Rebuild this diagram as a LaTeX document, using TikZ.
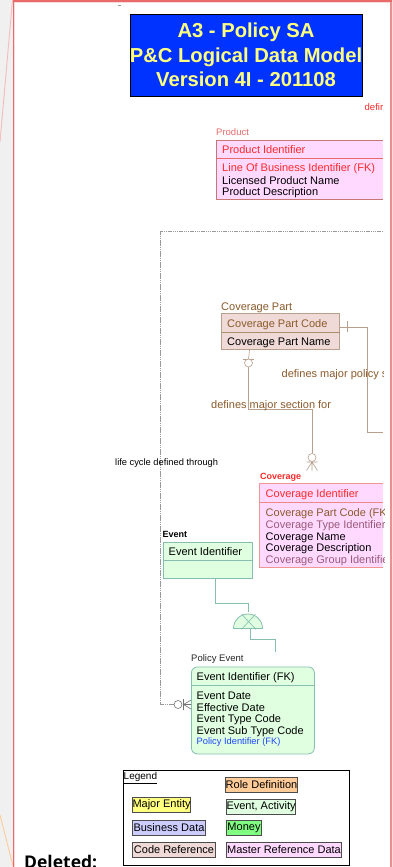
\documentclass[tikz,border=0pt]{standalone}
\usepackage{fontspec}
\setmainfont{Liberation Sans}
\newfontfamily\delfont{Open Sans}
\definecolor{frame}{HTML}{E86A6A}
\definecolor{entpink}{HTML}{FFD9FF}
\definecolor{entbrown}{HTML}{EFDAD7}
\definecolor{entgreen}{HTML}{DFFFE0}
\definecolor{edgegreen}{HTML}{86BFB0}
\definecolor{brownline}{HTML}{B9A08C}
\definecolor{browntxt}{HTML}{8B5A2B}
\definecolor{redtxt}{HTML}{FF2A2A}
\definecolor{mauve}{HTML}{9A5A78}
\definecolor{titleyellow}{HTML}{FFFF80}
\tikzset{
 txt/.style={inner sep=0pt,anchor=west,font=\fontsize{11}{11}\selectfont},
 small/.style={inner sep=0pt,anchor=west,font=\fontsize{9.5}{9.5}\selectfont},
 rel/.style={line width=.5pt},
 lg/.style={draw=black!70,line width=1pt,inner sep=0pt,anchor=north west,font=\fontsize{11}{11}\selectfont,align=center},
}
\begin{document}
\begin{tikzpicture}[x=1pt,y=-1pt]
\useasboundingbox (0,0) rectangle (393,867);
\fill[black!6] (0,0) rectangle (14,867);
\fill[black!6] (391,0) rectangle (393,867);
\draw[frame!45,line width=.9pt] (12.5,0) -- (0,142);
\draw[orange!40,line width=.9pt] (0,815) -- (13,866);
\draw[frame!25,fill=white,line width=3pt] (14,870) -- (14,1.5) -- (391,1.5) -- (391,870);
\fill[white] (15,3) rectangle (389.5,867);
\draw[frame,line width=1.1pt] (13.5,870) -- (13.5,1);
\draw[frame!75,line width=1.3pt] (391,1) -- (391,870);
\draw[frame,line width=2pt] (13,1) -- (391.5,1);
\draw[black!40,line width=.5pt] (118,5.5) -- (121,5.5);
% title
\node[draw=black,fill={rgb,255:red,0;green,51;blue,255},line width=1pt,minimum width=232pt,minimum height=81pt,inner sep=0pt] (title) at (246,55.5) {};
\node[inner sep=0pt,text=titleyellow,font=\bfseries\fontsize{20.2}{24.5}\selectfont,align=center] (titletext) at (246,55) {A3 - Policy SA\\P\&C Logical Data Model\\Version 4I - 201108};
\node[small,text=redtxt] (defir) at (364.5,107.5) {defir};
% product
\node[small,text=frame] (plabel) at (216,132.5) {Product};
\fill[entpink] (216,140) rectangle (383,199);
\draw[frame!80!black!80,line width=.7pt] (383,140) -- (216,140) -- (216,199) -- (383,199);
\draw[frame,line width=.6pt] (216,158) -- (383,158);
\node[txt,text=redtxt] (p1) at (222,150) {Product Identifier};
\node[txt,text=redtxt] (p2) at (222,169) {Line Of Business Identifier (FK)};
\node[txt] (p3) at (222,181) {Licensed Product Name};
\node[txt] (p4) at (222,192.5) {Product Description};
% long dashed line
\coordinate (ltop) at (383,231.5);
\coordinate (lcorner) at (160.5,231.5);
\coordinate (lbot) at (160.5,704.5);
\coordinate (lend) at (174,704.5);
\draw[black!40,dash pattern=on 1.5pt off .7pt,line width=.5pt] (ltop) -- (lcorner) -- (lbot) -- (lend);
% coverage part
\node[txt,text=browntxt] (cplabel) at (221,307.5) {Coverage Part};
\fill[entbrown] (221.5,313.5) rectangle (339.5,349.5);
\draw[brownline,line width=.7pt] (221.5,313.5) rectangle (339.5,349.5);
\draw[browntxt!70,line width=.6pt] (221.5,332.5) -- (339.5,332.5);
\node[txt,text=browntxt] (cp1) at (227,324.5) {Coverage Part Code};
\node[txt] (cp2) at (227,343) {Coverage Part Name};
\coordinate (r1) at (383,432);
\draw[brownline,line width=.8pt] (339.5,327) -- (367.5,327) -- (367.5,432) -- (r1);
\draw[brownline,line width=.8pt] (347.5,321) -- (347.5,332);
\coordinate (c1) at (249.5,350);
\draw[brownline,line width=.6pt] (c1) -- (248.5,359) (248.5,363) -- (248.5,409.5) -- (312.5,409.5) -- (312.5,453);
\draw[brownline,line width=.6pt] (243,359) -- (254,359);
\draw[brownline,fill=white,line width=.6pt] (248.5,363) circle (4pt);
\begin{scope}
\clip (270,365) rectangle (383,385);
\node[txt,text=browntxt] (m1) at (281.5,375) {defines major policy s};
\end{scope}
\node[txt,text=browntxt] (m2) at (211,405.5) {defines major section for};
\draw[brownline,fill=white,line width=.6pt] (312,457.5) circle (4pt);
\draw[brownline,line width=.6pt] (306.5,462) -- (317.5,462) (312,462) -- (306.5,470.5) (312,462) -- (312,470.5) (312,462) -- (317.5,470.5);
\node[small,font=\fontsize{9.3}{9.3}\selectfont] (lc) at (115,463) {life cycle defined through};
% coverage
\node[small,text=redtxt,font=\bfseries\fontsize{9}{9}\selectfont] (covl) at (260,477) {Coverage};
\fill[entpink] (259.5,483.5) rectangle (383,567.5);
\draw[frame!70,line width=.7pt] (383,483.5) -- (259.5,483.5) -- (259.5,567.5) -- (383,567.5);
\draw[frame!80,line width=.6pt] (259.5,502.5) -- (383,502.5);
\node[txt,text=redtxt] (c-1) at (265.5,495) {Coverage Identifier};
\begin{scope}
\clip (259,500) rectangle (384,570);
\node[txt,text=browntxt] (c-2) at (265.5,513.5) {Coverage Part Code (FK)};
\node[txt,text=mauve] (c-3) at (265.5,525.5) {Coverage Type Identifier};
\node[txt] (c-4) at (265.5,537.5) {Coverage Name};
\node[txt] (c-5) at (265.5,549) {Coverage Description};
\node[txt,text=mauve] (c-6) at (265.5,561) {Coverage Group Identifier};
\end{scope}
% event
\node[small,font=\bfseries\fontsize{9}{9}\selectfont] (evl) at (162.5,534.5) {Event};
\node[draw=edgegreen,fill=entgreen,line width=.8pt,minimum width=89pt,minimum height=36pt,inner sep=0pt,anchor=north west] (event) at (163,541.5) {};
\draw[edgegreen,line width=.6pt] (163,560) -- (252,560);
\node[txt] (e1) at (168.5,552) {Event Identifier};
% subtype
\coordinate (s1) at (215.5,577.5);
\draw[edgegreen,line width=.8pt] (s1) -- (215.5,603.5) -- (248.5,603.5) -- (248.5,612);
\path[fill=entgreen,draw=edgegreen,line width=.8pt] (233.5,628.5) arc[start angle=180,end angle=0,radius=14.5pt] -- cycle;
\draw[edgegreen,line width=.6pt] (241.5,629.5) -- (255.5,614) (256,629.5) -- (241.5,614);
\coordinate (pe) at (275.5,652);
\draw[edgegreen,line width=.8pt] (250,628.5) -- (250,639.5) -- (275.5,639.5) -- (pe);
% policy event
\node[small,text=black!85] (pel) at (191,659.5) {Policy Event};
\node[draw=edgegreen,fill=entgreen,rounded corners=6pt,line width=.8pt,minimum width=123pt,minimum height=87pt,inner sep=0pt,anchor=north west] (pev) at (191,666.5) {};
\draw[edgegreen,line width=.6pt] (191,685.5) -- (315,685.5);
\node[txt] (pe1) at (196.5,677.5) {Event Identifier (FK)};
\node[txt] (pe2) at (196.5,696) {Event Date};
\node[txt] (pe3) at (196.5,707.5) {Effective Date};
\node[txt] (pe4) at (196.5,719.5) {Event Type Code};
\node[txt] (pe5) at (196.5,731.5) {Event Sub Type Code};
\node[small,text={rgb,255:red,30;green,70;blue,255},font=\fontsize{9.3}{9.3}\selectfont] (pe6) at (196.5,742.5) {Policy Identifier (FK)};
% crow foot
\draw[black!55,fill=white,line width=.6pt] (178,704.5) circle (4pt);
\draw[black!55,line width=.6pt] (183.5,699) -- (183.5,710) (183.5,704.5) -- (191,700) (183.5,704.5) -- (191,709) (183.5,704.5) -- (191,704.5);
% legend
\node[draw=black,fill=white,line width=.9pt,minimum width=226pt,minimum height=95pt,inner sep=0pt,anchor=north west] (legend) at (122.5,769.5) {};
\node[inner sep=0pt,anchor=west,font=\fontsize{10}{10}\selectfont] (legt) at (123.5,778) {\underline{Legend}};
\node[lg,fill={rgb,255:red,255;green,204;blue,153},minimum width=72pt,minimum height=15pt] (l1) at (225,776.5) {Role Definition};
\node[lg,fill={rgb,255:red,255;green,255;blue,128},minimum width=58pt,minimum height=15pt] (l2) at (132,797) {Major Entity};
\node[lg,fill=entgreen,minimum width=68pt,minimum height=15pt] (l3) at (226,799) {Event, Activity};
\node[lg,fill={rgb,255:red,204;green,204;blue,255},minimum width=73pt,minimum height=15pt] (l4) at (132,819.5) {Business Data};
\node[lg,fill={rgb,255:red,128;green,255;blue,128},minimum width=35pt,minimum height=15pt] (l5) at (226,820) {Money};
\node[lg,fill=entbrown,minimum width=83pt,minimum height=15pt] (l6) at (132,842) {Code Reference};
\node[lg,fill=entpink,minimum width=115pt,minimum height=15pt] (l7) at (226,842) {Master Reference Data};
\node[inner sep=0pt,anchor=base west,font=\delfont\fontseries{b}\fontsize{17.5}{17.5}\selectfont] (del) at (24,868) {Deleted:};
\end{tikzpicture}
\end{document}
